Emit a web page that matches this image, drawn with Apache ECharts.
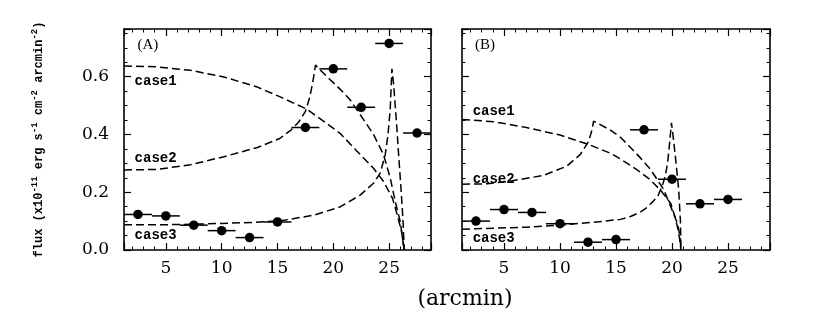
<!DOCTYPE html>
<html><head><meta charset="utf-8">
<script src="https://cdn.jsdelivr.net/npm/echarts@6/dist/echarts.min.js"></script>
<style>html,body{margin:0;padding:0;background:#fff}#c{width:817px;height:317px}</style>
</head><body><div id="c"></div>
<script>
// ---------- data ----------
const xTicks = [5, 10, 15, 20, 25];
const yTicks = [0.0, 0.2, 0.4, 0.6];

// Panel (A) observed points
const binsA = [2.5, 5, 7.5, 10, 12.5, 15, 17.5, 20, 22.5, 25, 27.5];
const fluxA = [0.123, 0.118, 0.086, 0.067, 0.043, 0.097, 0.424, 0.627, 0.494, 0.715, 0.405];
const errA  = [1.25, 1.25, 1.25, 1.25, 1.25, 1.25, 1.25, 1.25, 1.25, 1.25, 1.25];

// Panel (B) observed points
const binsB = [2.5, 5, 7.5, 10, 12.5, 15, 17.5, 20, 22.5, 25];
const fluxB = [0.100, 0.140, 0.130, 0.091, 0.027, 0.036, 0.416, 0.245, 0.160, 0.175];
const errB  = [1.25, 1.25, 1.25, 1.25, 1.25, 1.25, 1.25, 1.25, 1.25, 1.25];

// Panel (A) model curves
const case1A = [[1.25,0.637],[4.2,0.634],[7.2,0.622],[10.2,0.599],[13.2,0.564],[15.3,0.529],[17.6,0.488],[19.7,0.43],[20.6,0.404],[22.1,0.343],[23.6,0.283],[24.5,0.237],[25.3,0.179],[25.7,0.125],[26.1,0.066],[26.35,0]];
const case2A = [[1.25,0.277],[4.2,0.279],[7.2,0.295],[10.2,0.323],[13.2,0.355],[15.2,0.386],[16.2,0.415],[16.9,0.443],[17.5,0.48],[17.9,0.53],[18.2,0.59],[18.4,0.64],[18.7,0.628],[19.7,0.59],[20.6,0.557],[21.5,0.52],[22.4,0.469],[23.6,0.40],[24.5,0.33],[25.1,0.249],[25.55,0.167],[26.0,0.097],[26.35,0]];
const case3A = [[1.25,0.087],[6,0.088],[10,0.092],[13,0.096],[15.3,0.101],[18.3,0.121],[20.6,0.149],[22.4,0.19],[23.6,0.231],[24.2,0.266],[24.65,0.33],[24.9,0.40],[25.1,0.49],[25.25,0.627],[25.4,0.574],[25.65,0.446],[25.85,0.33],[26.06,0.214],[26.25,0.097],[26.35,0]];

// Panel (B) model curves
const case1B = [[1.25,0.452],[4.1,0.444],[7,0.424],[10,0.398],[12.7,0.363],[14.5,0.335],[15.4,0.315],[16.9,0.277],[18,0.245],[19,0.206],[19.9,0.16],[20.3,0.11],[20.6,0.06],[20.8,0]];
const case2B = [[1.25,0.228],[3.5,0.229],[5.5,0.238],[8.5,0.258],[10.6,0.29],[11.8,0.33],[12.55,0.375],[12.85,0.415],[13.0,0.446],[13.3,0.44],[14.5,0.415],[15.4,0.39],[16.3,0.355],[17.2,0.318],[18.1,0.278],[19.25,0.21],[20.15,0.125],[20.5,0.09],[20.7,0.05],[20.8,0]];
const case3B = [[1.25,0.072],[7,0.079],[10,0.086],[13,0.096],[15.4,0.106],[16.3,0.116],[17.2,0.132],[17.8,0.148],[18.7,0.184],[19.1,0.219],[19.4,0.255],[19.6,0.30],[19.75,0.355],[19.88,0.41],[19.95,0.44],[20.05,0.41],[20.3,0.324],[20.6,0.208],[20.75,0.1],[20.8,0]];

// annotation texts
const textsA = ['(A)', 'case1', 'case2', 'case3'];
const textXA = [2.45, 2.2, 2.2, 2.2];
const textYA = [0.708, 0.585, 0.318, 0.051];
const textsB = ['(B)', 'case1', 'case2', 'case3'];
const textXB = [2.4, 2.2, 2.2, 2.2];
const textYB = [0.708, 0.481, 0.243, 0.041];

// ---------- chart ----------
const X_MIN = 1.25, X_MAX = 28.75, Y_MIN = 0, Y_MAX = 0.765;
const BLACK = '#000';
const serif = '"DejaVu Serif", serif';
const mono = '"Liberation Mono", monospace';

function xAxis(gi, pos, labels) {
  return {
    type: 'value', gridIndex: gi, position: pos, min: X_MIN, max: X_MAX,
    minInterval: 5, maxInterval: 5,
    axisLine: {show: true, onZero: false, lineStyle: {color: BLACK, width: 1.6}},
    axisTick: {show: true, inside: true, length: 7, lineStyle: {color: BLACK, width: 1.2}},
    minorTick: {show: true, splitNumber: 5, length: 3.5, lineStyle: {color: BLACK, width: 1}},
    splitLine: {show: false}, minorSplitLine: {show: false},
    axisLabel: {
      show: labels, margin: 10, color: BLACK, fontFamily: serif, fontSize: 17,
      formatter: v => (xTicks.indexOf(Math.round(v * 1000) / 1000) >= 0 ? String(v) : '')
    }
  };
}
function yAxis(gi, pos, labels, name) {
  const ax = {
    type: 'value', gridIndex: gi, position: pos, min: Y_MIN, max: Y_MAX, interval: 0.2,
    axisLine: {show: true, onZero: false, lineStyle: {color: BLACK, width: 1.6}},
    axisTick: {show: true, inside: true, length: 7, lineStyle: {color: BLACK, width: 1.2}},
    minorTick: {show: true, splitNumber: 4, length: 3.5, lineStyle: {color: BLACK, width: 1}},
    splitLine: {show: false}, minorSplitLine: {show: false},
    axisLabel: {
      show: labels, margin: 15, color: BLACK, fontFamily: serif, fontSize: 17,
      formatter: v => {
        const r = Math.round(v * 10) / 10;
        return yTicks.some(t => Math.abs(t - v) < 1e-6) ? r.toFixed(1) : '';
      }
    }
  };
  if (name) {
    ax.name = '{b|flux (x10}{s|-11}{b| erg s}{s|-1}{b| cm}{s|-2}{b| arcmin}{s|-2}{b|)}';
    ax.nameLocation = 'middle';
    ax.nameRotate = 90;
    ax.nameGap = 76;
    ax.nameTextStyle = {
      rich: {
        b: {fontFamily: mono, fontWeight: 'bold', fontSize: 12, lineHeight: 18, color: BLACK},
        s: {fontFamily: mono, fontWeight: 'bold', fontSize: 9, lineHeight: 9, color: BLACK, verticalAlign: 'top'}
      }
    };
  }
  return ax;
}

function errSeries(xs, ys, es, axi) {
  return {
    type: 'custom', xAxisIndex: axi, yAxisIndex: axi, silent: true, z: 4,
    data: xs.map((x, i) => [x, ys[i], es[i]]),
    encode: {x: 0, y: 1},
    renderItem: (params, api) => {
      const x = api.value(0), y = api.value(1), e = api.value(2);
      const p0 = api.coord([x - e, y]), p1 = api.coord([x + e, y]);
      return {type: 'line', shape: {x1: p0[0], y1: p0[1], x2: p1[0], y2: p1[1]},
              style: {stroke: BLACK, lineWidth: 1.5}};
    }
  };
}
function dotSeries(xs, ys, axi) {
  return {
    type: 'scatter', xAxisIndex: axi, yAxisIndex: axi, silent: true, z: 5,
    symbol: 'circle', symbolSize: 9.5, itemStyle: {color: BLACK, opacity: 1},
    data: xs.map((x, i) => [x, ys[i]])
  };
}
function curveSeries(pts, axi) {
  return {
    type: 'line', xAxisIndex: axi, yAxisIndex: axi, silent: true, z: 3,
    showSymbol: false, symbol: 'none', smooth: false,
    lineStyle: {color: BLACK, width: 1.5, type: [8, 4], opacity: 1},
    data: pts
  };
}
function textSeries(names, xs, ys, axi) {
  return {
    type: 'custom', xAxisIndex: axi, yAxisIndex: axi, silent: true, z: 6,
    data: xs.map((x, i) => [x, ys[i]]),
    encode: {x: 0, y: 1},
    renderItem: (params, api) => {
      const c = api.coord([api.value(0), api.value(1)]);
      const t = names[params.dataIndex];
      const isPanel = t.charAt(0) === '(';
      return {type: 'text', x: c[0], y: c[1],
              style: {text: t, fill: BLACK, align: 'left', verticalAlign: 'middle',
                      font: isPanel ? '15px "Liberation Serif", serif' : 'bold 14px "Liberation Mono", monospace'}};
    }
  };
}

const chart = echarts.init(document.getElementById('c'), null, {renderer: 'canvas'});
chart.setOption({
  animation: false,
  backgroundColor: '#fff',
  grid: [
    {left: 124, top: 29, width: 307, height: 221, containLabel: false},
    {left: 462, top: 29, width: 308, height: 221, containLabel: false}
  ],
  xAxis: [xAxis(0, 'bottom', true), xAxis(0, 'top', false), xAxis(1, 'bottom', true), xAxis(1, 'top', false)],
  yAxis: [yAxis(0, 'left', true, true), yAxis(0, 'right', false, false), yAxis(1, 'left', false, false), yAxis(1, 'right', false, false)],
  title: {
    text: '(arcmin)', left: 460, top: 283, textAlign: 'center',
    textStyle: {fontFamily: serif, fontSize: 22, fontWeight: 'normal', color: BLACK}
  },
  series: [
    curveSeries(case1A, 0), curveSeries(case2A, 0), curveSeries(case3A, 0),
    errSeries(binsA, fluxA, errA, 0), dotSeries(binsA, fluxA, 0),
    textSeries(textsA, textXA, textYA, 0),
    curveSeries(case1B, 2), curveSeries(case2B, 2), curveSeries(case3B, 2),
    errSeries(binsB, fluxB, errB, 2), dotSeries(binsB, fluxB, 2),
    textSeries(textsB, textXB, textYB, 2)
  ]
});
</script></body></html>
